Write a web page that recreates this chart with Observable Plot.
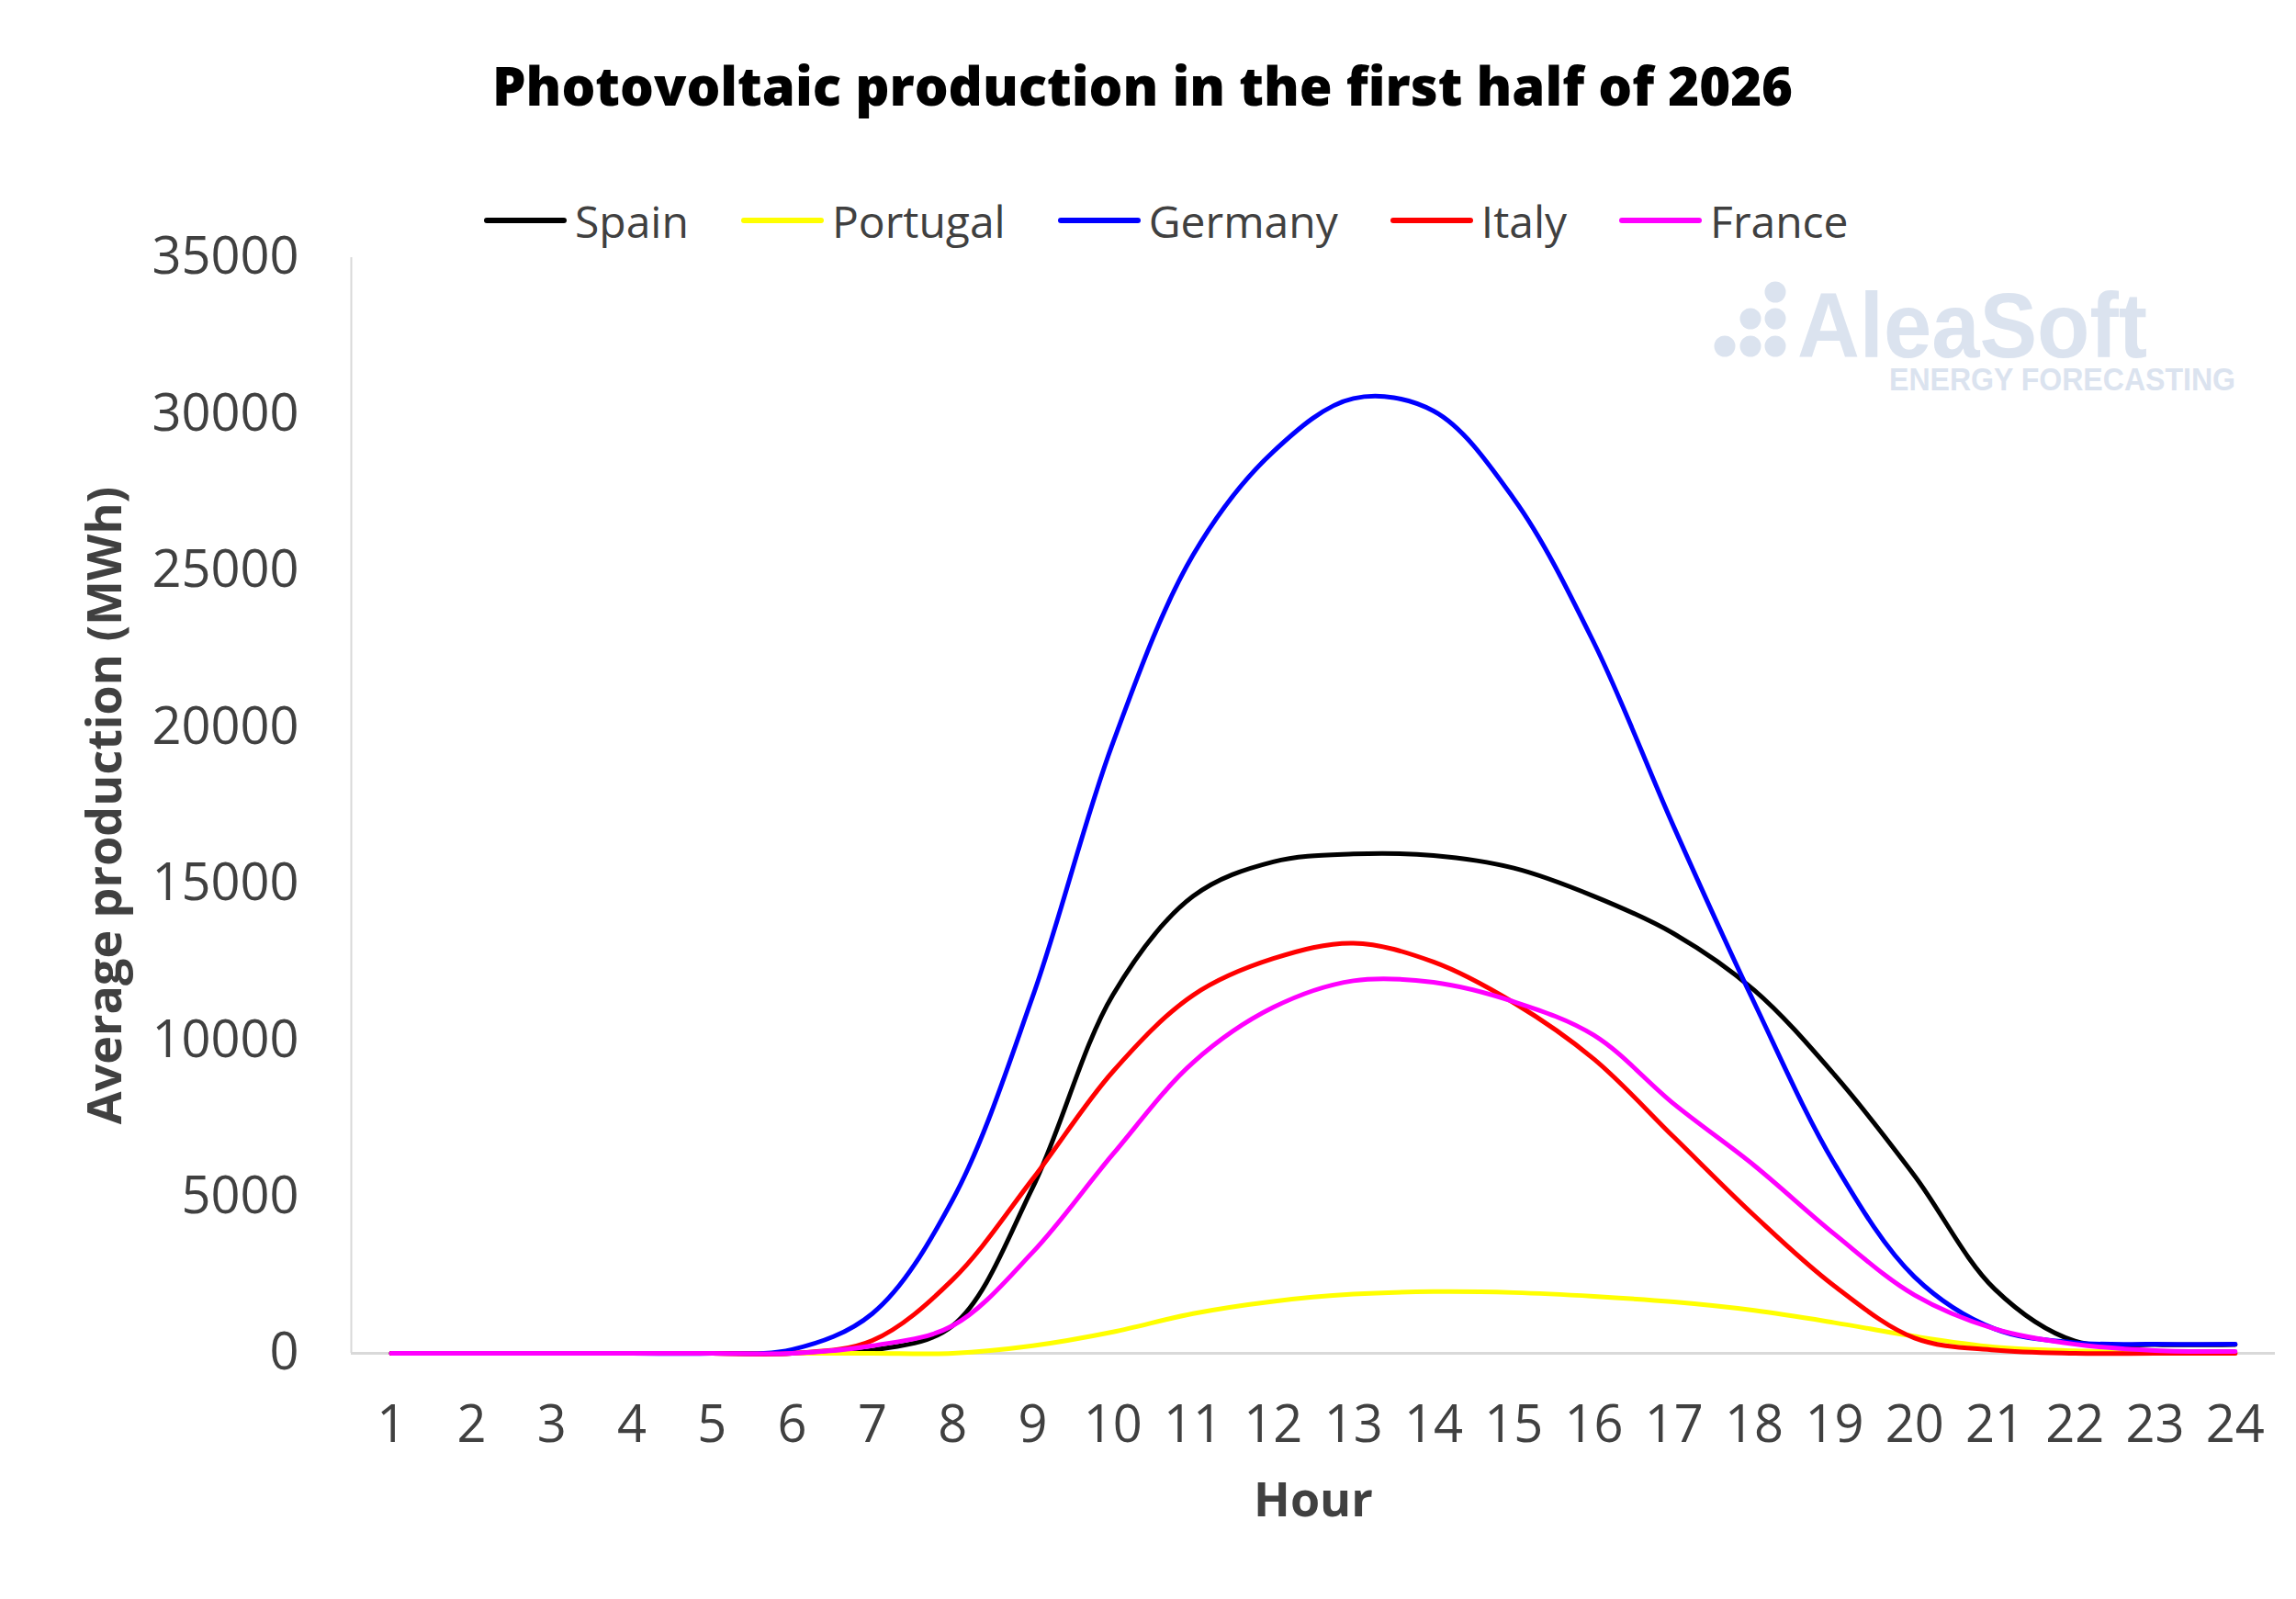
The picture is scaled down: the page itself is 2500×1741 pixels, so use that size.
<!DOCTYPE html>
<html>
<head>
<meta charset="utf-8">
<script src="https://cdn.jsdelivr.net/npm/d3@7"></script>
<script src="https://cdn.jsdelivr.net/npm/@observablehq/plot@0.6"></script>
<style>
  html, body { margin: 0; padding: 0; background: #fff; }
  #wrap { position: relative; width: 2500px; height: 1741px; overflow: hidden; background: #fff; font-family: "Open Sans", sans-serif; }
  #title { position: absolute; left: 0; top: 51px; width: 2488px; text-align: center; font-weight: 800; font-size: 58px; line-height: 84px; color: #000; }
  #legend { position: absolute; left: 527px; top: 204px; height: 72px; display: flex; align-items: center; font-size: 48px; color: #404040; }
  .item { display: flex; align-items: center; margin-right: 57px; }
  .sw { width: 90px; height: 6px; border-radius: 3px; margin-right: 9px; }
  #watermark { position: absolute; left: 1850px; top: 290px; }
  #chart { position: absolute; left: 0; top: 215px; }
  #chart g[aria-label="y-axis label"], #chart g[aria-label="x-axis label"] { font-weight: 700; font-size: 52px; fill: #404040; }
</style>
</head>
<body>
<div id="wrap">
  <div id="title"></div>
  <div id="legend"></div>
  <svg id="watermark" width="640" height="170" viewBox="0 0 640 170">
    <g fill="#dbe3ef">
      <circle cx="28" cy="87" r="11.5"></circle>
      <circle cx="56" cy="87" r="11.5"></circle>
      <circle cx="83" cy="87" r="11.5"></circle>
      <circle cx="56" cy="57" r="11.5"></circle>
      <circle cx="83" cy="57" r="11.5"></circle>
      <circle cx="83" cy="28" r="11.5"></circle>
      <text x="107" y="99" font-family="Liberation Sans, Arial, sans-serif" font-weight="700" font-size="100" textLength="381" lengthAdjust="spacingAndGlyphs">AleaSoft</text>
      <text x="207" y="135" font-family="Liberation Sans, Arial, sans-serif" font-weight="700" font-size="35" textLength="377" lengthAdjust="spacingAndGlyphs">ENERGY FORECASTING</text>
    </g>
  </svg>
  <div id="chart"></div>
</div>
<script>
const titleText = "Photovoltaic production in the first half of 2026";
const xLabel = "Hour";
const yLabel = "Average production (MWh)";

const hours = [1,2,3,4,5,6,7,8,9,10,11,12,13,14,15,16,17,18,19,20,21,22,23,24];
const yTicks = [0,5000,10000,15000,20000,25000,30000,35000];

const countries = ["Spain","Portugal","Germany","Italy","France"];
const colors = ["#000000","#ffff00","#0000ff","#ff0000","#ff00ff"];

const spain    = [0,0,0,0,0,0,100,880,5300,11450,14600,15700,15950,15900,15500,14600,13400,11600,8900,5670,2050,390,280,280];
const portugal = [0,0,0,0,0,0,0,0,240,680,1270,1660,1890,1970,1940,1820,1640,1370,980,540,200,80,30,0];
const germany  = [0,0,0,0,0,120,1270,4900,11400,19500,25500,28800,30500,30100,27300,22700,16800,11200,6060,2440,780,340,290,290];
const italy    = [0,0,0,0,0,0,410,2350,5570,9000,11440,12610,13100,12500,11200,9400,6900,4400,2150,490,100,0,0,0];
const france   = [0,0,0,0,0,0,240,880,3230,6360,9290,11050,11900,11850,11230,10160,7960,6000,3810,1860,780,290,90,60];

const seriesValues = [spain, portugal, germany, italy, france];

const table = [];
countries.forEach((c, i) => {
  hours.forEach((h, j) => table.push({country: c, hour: h, value: seriesValues[i][j]}));
});

document.getElementById("title").textContent = titleText;

const legend = document.getElementById("legend");
countries.forEach((c, i) => {
  const item = document.createElement("div");
  item.className = "item";
  const sw = document.createElement("div");
  sw.className = "sw";
  sw.style.background = colors[i];
  const t = document.createElement("span");
  t.textContent = c;
  item.appendChild(sw);
  item.appendChild(t);
  legend.appendChild(item);
});

const chart = Plot.plot({
  width: 2500,
  height: 1526,
  marginTop: 65,
  marginBottom: 268,
  marginLeft: 382,
  marginRight: 23,
  style: {fontFamily: "'Open Sans', sans-serif", background: "transparent", color: "#404040"},
  x: {type: "linear", domain: [0.5, 24.5]},
  y: {domain: [0, 35000]},
  color: {domain: countries, range: colors},
  marks: [
    Plot.ruleX([0.5], {stroke: "#d9d9d9", strokeWidth: 2}),
    Plot.ruleY([0], {stroke: "#d9d9d9", strokeWidth: 3}),
    Plot.axisX(hours, {tickSize: 0, tickPadding: 57, fontSize: 56, fill: "#404040", tickFormat: d => String(d),
      label: xLabel, labelAnchor: "center", labelArrow: "none", labelOffset: 177}),
    Plot.axisY(yTicks, {tickSize: 0, tickPadding: 57, fontSize: 56, fill: "#404040", tickFormat: d => String(d),
      label: yLabel, labelAnchor: "center", labelArrow: "none", labelOffset: 287}),
    Plot.line(table, {x: "hour", y: "value", z: "country", stroke: "country", curve: "catmull-rom", strokeWidth: 5})
  ]
});
document.getElementById("chart").appendChild(chart);
</script>
</body>
</html>
